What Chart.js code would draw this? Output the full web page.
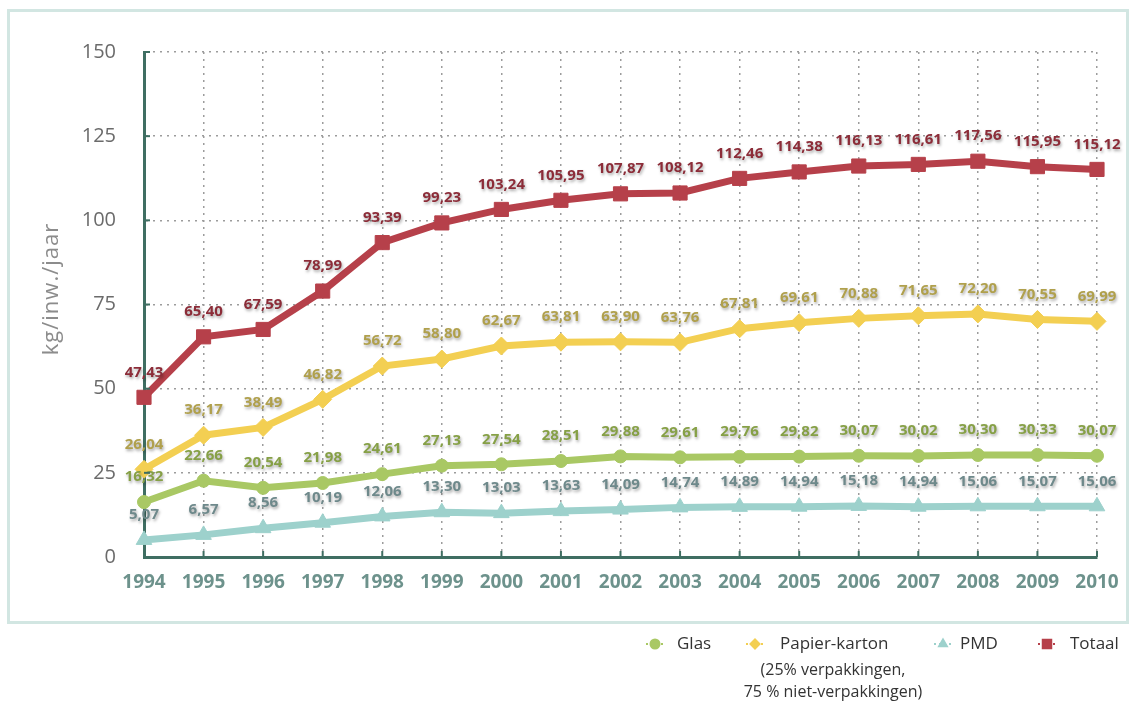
<!DOCTYPE html>
<html>
<head>
<meta charset="utf-8">
<script src="https://cdn.jsdelivr.net/npm/chart.js@4/dist/chart.umd.min.js"></script>
<style>
  html, body { margin: 0; padding: 0; background: #ffffff; }
  #wrap { width: 1133px; height: 702px; position: relative; }
</style>
</head>
<body>
<div id="wrap"><canvas id="c" width="1133" height="702"></canvas></div>
<script>
// Ingezameld afval per inwoner (kg/inw./jaar)
const years = ['1994','1995','1996','1997','1998','1999','2000','2001','2002','2003','2004','2005','2006','2007','2008','2009','2010'];
const glas = [16.32,22.66,20.54,21.98,24.61,27.13,27.54,28.51,29.88,29.61,29.76,29.82,30.07,30.02,30.30,30.33,30.07];
const papierKarton = [26.04,36.17,38.49,46.82,56.72,58.80,62.67,63.81,63.90,63.76,67.81,69.61,70.88,71.65,72.20,70.55,69.99];
const pmd = [5.07,6.57,8.56,10.19,12.06,13.30,13.03,13.63,14.09,14.74,14.89,14.94,15.18,14.94,15.06,15.07,15.06];
const totaal = [47.43,65.40,67.59,78.99,93.39,99.23,103.24,105.95,107.87,108.12,112.46,114.38,116.13,116.61,117.56,115.95,115.12];
const yTicks = [0, 25, 50, 75, 100, 125, 150];
const yTitle = 'kg/inw./jaar';

const FONT = "'Open Sans', 'DejaVu Sans', sans-serif";
const AXIS = '#3f6e62';

const series = [
  { label: 'Totaal', data: totaal, color: '#b6404a', text: '#8c2c38', style: 'rect', r: 10 },
  { label: 'Papier-karton', data: papierKarton, color: '#f3cf52', text: '#b0a04c', style: 'rectRot', r: 9 },
  { label: 'Glas', data: glas, color: '#a9c864', text: '#86a046', style: 'circle', r: 6.5 },
  { label: 'PMD', data: pmd, color: '#9dd1cc', text: '#6e898b', style: 'triangle', r: 9 }
];

const fmt = v => v.toFixed(2).replace('.', ',');

// Light frame around the plot region
const framePlugin = {
  id: 'frame',
  beforeDraw(chart) {
    const ctx = chart.ctx;
    ctx.save();
    ctx.fillStyle = '#ffffff';
    ctx.fillRect(0, 0, chart.width, chart.height);
    ctx.strokeStyle = '#d2e6e2';
    ctx.lineWidth = 3;
    ctx.strokeRect(8.5, 10.5, 1119, 612);
    ctx.restore();
  }
};

// Short inner tick marks on both axes, and the rotated axis title
const axisExtras = {
  id: 'axisExtras',
  afterDraw(chart) {
    const ctx = chart.ctx;
    const { x, y } = chart.scales;
    const area = chart.chartArea;
    ctx.save();
    ctx.strokeStyle = AXIS;
    ctx.lineWidth = 2;
    x.ticks.forEach((t, i) => {
      const px = x.getPixelForTick(i);
      if (i === 0) return;
      ctx.beginPath();
      ctx.moveTo(px, area.bottom);
      ctx.lineTo(px, area.bottom - 6);
      ctx.stroke();
    });
    y.ticks.forEach((t, i) => {
      const py = y.getPixelForTick(i);
      if (t.value === 0) return;
      ctx.beginPath();
      ctx.moveTo(area.left, py);
      ctx.lineTo(area.left + 6, py);
      ctx.stroke();
    });
    ctx.translate(52, 289);
    ctx.rotate(-Math.PI / 2);
    ctx.fillStyle = '#8c8c8c';
    ctx.font = "22px " + FONT;
    ctx.letterSpacing = '1px';
    ctx.textAlign = 'center';
    ctx.textBaseline = 'middle';
    ctx.fillText(yTitle, 0, 0);
    ctx.restore();
  }
};

// Value labels above every point
const valueLabels = {
  id: 'valueLabels',
  afterDatasetsDraw(chart) {
    const ctx = chart.ctx;
    ctx.save();
    ctx.font = "bold 15px " + FONT;
    ctx.textAlign = 'center';
    ctx.textBaseline = 'middle';
    ctx.shadowColor = 'rgba(0,0,0,0.35)';
    ctx.shadowBlur = 3;
    ctx.shadowOffsetX = 1;
    ctx.shadowOffsetY = 2;
    chart.data.datasets.forEach((ds, di) => {
      const meta = chart.getDatasetMeta(di);
      ctx.fillStyle = series[di].text;
      meta.data.forEach((pt, i) => {
        ctx.fillText(fmt(ds.data[i]), pt.x, pt.y - 25);
      });
    });
    ctx.restore();
  }
};

// Legend row under the frame
const legendRow = {
  id: 'legendRow',
  afterDraw(chart) {
    const ctx = chart.ctx;
    const items = [
      { s: series[2], mx: 655, tx: 677 },
      { s: series[1], mx: 755, tx: 780 },
      { s: series[3], mx: 943, tx: 960 },
      { s: series[0], mx: 1047, tx: 1070 }
    ];
    const ly = 644;
    ctx.save();
    items.forEach(it => {
      ctx.strokeStyle = it.s.color;
      ctx.lineWidth = 2;
      ctx.setLineDash([2, 3]);
      ctx.beginPath();
      ctx.moveTo(it.mx - 9, ly);
      ctx.lineTo(it.mx + 9, ly);
      ctx.stroke();
      ctx.setLineDash([]);
      ctx.fillStyle = it.s.color;
      ctx.strokeStyle = it.s.color;
      Chart.helpers.drawPoint(ctx, {
        pointStyle: it.s.style, radius: it.s.style === 'rect' ? 6 : 4.5,
        borderWidth: 1, rotation: 0
      }, it.mx, ly);
      ctx.fillStyle = '#333333';
      ctx.font = "17px " + FONT;
      ctx.textAlign = 'left';
      ctx.textBaseline = 'middle';
      ctx.fillText(it.s.label, it.tx, ly);
    });
    ctx.font = "16px " + FONT;
    ctx.textAlign = 'center';
    ctx.fillStyle = '#333333';
    ctx.fillText('(25% verpakkingen,', 833, 670);
    ctx.fillText('75 % niet-verpakkingen)', 833, 692);
    ctx.restore();
  }
};

new Chart(document.getElementById('c'), {
  type: 'line',
  data: {
    labels: years,
    datasets: series.map(s => ({
      label: s.label,
      data: s.data,
      borderColor: s.color,
      backgroundColor: s.color,
      borderWidth: 7,
      tension: 0,
      fill: false,
      pointStyle: s.style,
      pointRadius: s.r,
      pointHoverRadius: s.r,
      pointBackgroundColor: s.color,
      pointBorderColor: s.color,
      pointBorderWidth: 1
    }))
  },
  options: {
    responsive: false,
    animation: false,
    events: [],
    layout: { padding: { top: 52, right: 36, bottom: 0, left: 0 } },
    plugins: { legend: { display: false }, tooltip: { enabled: false } },
    scales: {
      x: {
        type: 'category',
        offset: false,
        afterFit(scale) { scale.height = 145; },
        grid: { display: true, drawTicks: false, color: '#9c9c9c', lineWidth: 1.5 },
        border: { display: true, color: AXIS, width: 3, dash: [2, 5] },
        ticks: { color: '#6d928c', padding: 14, font: { family: FONT, size: 19, weight: 'bold' }, maxRotation: 0, autoSkip: false }
      },
      y: {
        min: 0, max: 150,
        afterFit(scale) { scale.width = 144; },
        afterBuildTicks(scale) { scale.ticks = yTicks.map(v => ({ value: v })); },
        grid: {
          display: true, drawTicks: false, lineWidth: 1.5,
          color: ctx => ctx.tick && ctx.tick.value === 0 ? 'rgba(0,0,0,0)' : '#9c9c9c'
        },
        border: { display: true, color: AXIS, width: 3, dash: [2, 5] },
        ticks: { color: '#6b6b6b', padding: 28, font: { family: FONT, size: 20 } }
      }
    }
  },
  plugins: [framePlugin, axisExtras, valueLabels, legendRow]
});
</script>
</body>
</html>
